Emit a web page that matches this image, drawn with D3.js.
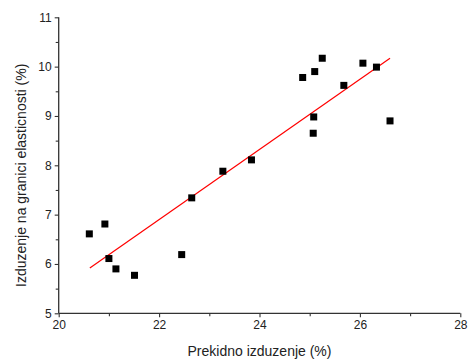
<!DOCTYPE html>
<html><head><meta charset="utf-8">
<script src="https://cdn.jsdelivr.net/npm/d3@7"></script>
<style>body{margin:0;background:#fff}svg{display:block}</style>
</head><body>
<svg id="c" width="470" height="361"></svg>
<script>
const xValues = [20.61,20.92,21.00,21.14,21.51,22.45,22.65,23.27,23.84,24.86,25.10,25.25,25.08,25.07,25.68,26.06,26.33,26.60];
const yValues = [6.61,6.81,6.11,5.90,5.77,6.19,7.34,7.88,8.11,9.78,9.90,10.17,8.98,8.65,9.62,10.07,9.99,8.90];
const fitX = [20.62, 26.60];
const fitY = [5.92, 10.17];
const xTicks = [20,22,24,26,28];
const yTicks = [5,6,7,8,9,10,11];
const xMinor = [21,23,25,27];
const yMinor = [5.5,6.5,7.5,8.5,9.5,10.5];

const svg = d3.select("#c");
const x = d3.scaleLinear().domain([20,28]).range([58.7,460.3]);
const y = d3.scaleLinear().domain([5,11]).range([313.3,17.3]);
const axisColor = "#333";
const font = "Liberation Sans, Arial, sans-serif";

// x axis
const gx = svg.append("g").attr("transform",`translate(0,${y(5)})`)
  .call(d3.axisBottom(x).tickValues(xTicks).tickSize(4).tickPadding(3).tickFormat(d3.format("d")));
svg.append("g").attr("transform",`translate(0,${y(5)})`)
  .call(d3.axisBottom(x).tickValues(xMinor).tickSize(3).tickFormat(""))
  .select(".domain").remove();
// y axis
const gy = svg.append("g").attr("transform",`translate(${x(20)},0)`)
  .call(d3.axisLeft(y).tickValues(yTicks).tickSize(4).tickPadding(3).tickFormat(d3.format("d")));
svg.append("g").attr("transform",`translate(${x(20)},0)`)
  .call(d3.axisLeft(y).tickValues(yMinor).tickSize(3).tickFormat(""))
  .select(".domain").remove();

svg.selectAll(".domain").attr("stroke",axisColor).attr("stroke-width",1.3);
svg.selectAll(".tick line").attr("stroke",axisColor).attr("stroke-width",1.1);
svg.selectAll(".tick text").attr("fill","#222").style("font-family",font).style("font-size","12px");
gx.selectAll(".domain").attr("d",`M${x(20)},0H${x(28)}`);
gy.selectAll(".domain").attr("d",`M0,${y(11)}V${y(5)}`);

// fit line
svg.append("line")
  .attr("x1",x(fitX[0])).attr("y1",y(fitY[0]))
  .attr("x2",x(fitX[1])).attr("y2",y(fitY[1]))
  .attr("stroke","#ff0000").attr("stroke-width",1.2);

// points
const s = 7;
svg.selectAll("rect.pt").data(xValues.map((v,i)=>[v,yValues[i]])).enter()
  .append("rect").attr("class","pt")
  .attr("x",d=>x(d[0])-s/2).attr("y",d=>y(d[1])-s/2)
  .attr("width",s).attr("height",s).attr("fill","#000");

// titles
svg.append("text").attr("x",259.5).attr("y",356)
  .attr("text-anchor","middle").style("font-family",font).style("font-size","14px").attr("fill","#222")
  .text("Prekidno izduzenje (%)");
svg.append("text").attr("transform",`translate(26,${(y(5)+y(11))/2 + 10}) rotate(-90)`)
  .attr("text-anchor","middle").style("font-family",font).style("font-size","14px").attr("fill","#222")
  .text("Izduzenje na granici elasticnosti (%)");
</script>
</body></html>
